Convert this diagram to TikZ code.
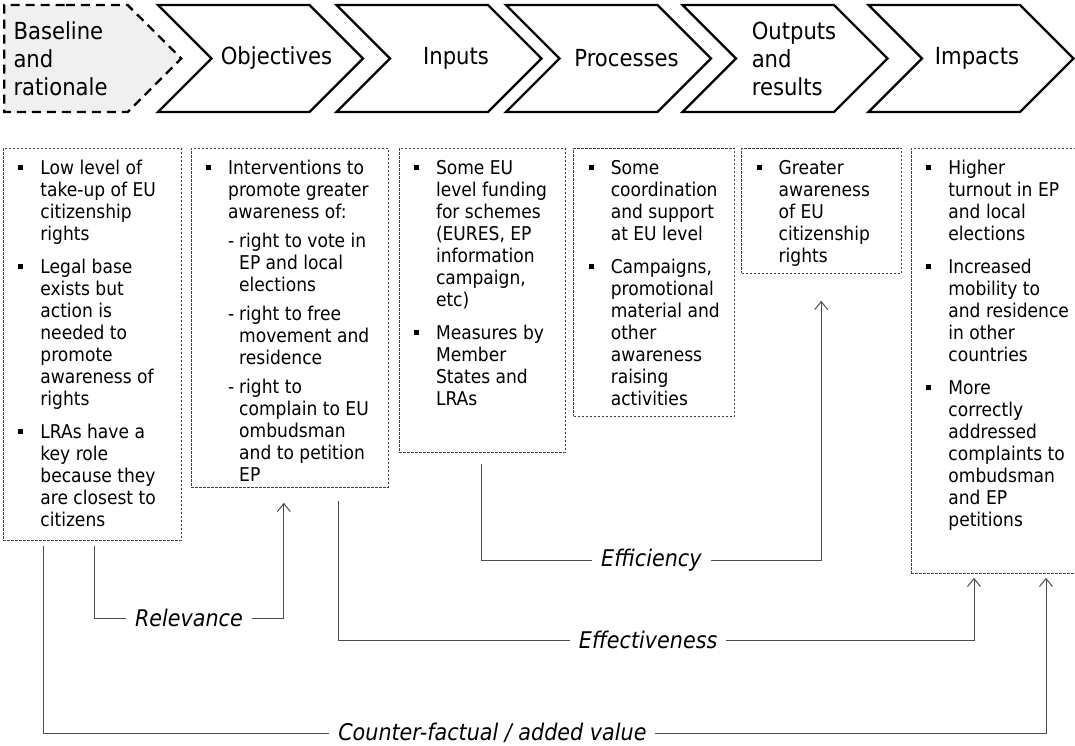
\documentclass[tikz,border=0pt]{standalone}
\usepackage{fontspec}
\setmainfont[FakeStretch=0.9]{DejaVu Sans}
\usetikzlibrary{positioning, arrows.meta, shapes.symbols}

% list items inside the boxes
\newcommand{\sqbullet}{\rule[4pt]{5pt}{5pt}}
\newcommand{\bitem}[2][11pt]{\par\vspace{#1}\hangindent=22pt\hangafter=1\noindent\strut\makebox[22pt][l]{\sqbullet}#2\par}
\newcommand{\ditem}[1]{\par\vspace{7pt}\hangindent=33pt\hangafter=1\noindent\strut\hspace*{22pt}\makebox[11pt][l]{-}#1\par}
\newcommand{\colbox}[3]{\parbox[t][#2][t]{#1}{\parindent=0pt\leftskip=15pt\rightskip=0pt plus 1fil\let\\\newline\vspace*{10.5pt}#3}}

\begin{document}
\begin{tikzpicture}[x=1pt, y=-1pt,
    chev/.style={signal, signal from=west, signal to=east, signal pointer angle=90, draw, line width=2.4pt, minimum width=205pt, minimum height=107pt, inner sep=0pt},
    basechev/.style={chev, signal from=nowhere, dash pattern=on 9pt off 6pt, fill=gray!12, minimum width=177pt},
    chevtext/.style={font=\fontsize{23.5}{28}\selectfont, align=left},
    itembox/.style={draw=black!75, line width=0.8pt, dash pattern=on 2.5pt off 1.5pt, inner sep=0pt, font=\fontsize{19}{22}\selectfont},
    flow/.style={draw=black!70, line width=1pt},
    arr/.style={flow, -{Straight Barb[length=8pt, width=13pt]}},
    lbl/.style={fill=white, inner xsep=9pt, inner ysep=1pt, font=\fontsize{23}{27}\selectfont\itshape}
]
    \useasboundingbox (0,0) rectangle (1075,745);

    % Stages
    \node[basechev, anchor=west, label={[chevtext, anchor=west, xshift=7pt]west:Baseline\\and\\rationale}] (base) at (3,58.5) {};
    \node[chev, label={[chevtext, xshift=16pt]center:Objectives}] (obj) at (260.5,58.5) {};
    \node[chev, label={[chevtext, xshift=17pt]center:Inputs}] (inp) at (439,58.5) {};
    \node[chev, label={[chevtext, xshift=18pt]center:Processes}] (proc) at (608.5,58.5) {};
    \node[chev, label={[chevtext, xshift=9pt]center:Outputs\\and\\results}] (outp) at (785,58.5) {};
    \node[chev, label={[chevtext, xshift=6pt]center:Impacts}] (imp) at (971,58.5) {};

    % Boxes
    \node[itembox, anchor=north west] (b1) at (3,148) {\colbox{178pt}{392pt}{%
        \bitem[0pt]{Low level of\\take-up of EU\\citizenship\\rights}
        \bitem{Legal base\\exists but\\action is\\needed to\\promote\\awareness of\\rights}
        \bitem{LRAs have a\\key role\\because they\\are closest to\\citizens}}};
    \node[itembox, right=9pt of b1.north east, anchor=north west] (b2) {\colbox{197pt}{339pt}{%
        \bitem[0pt]{Interventions to\\promote greater\\awareness of:}
        \ditem{right to vote in\\EP and local\\elections}
        \ditem{right to free\\movement and\\residence}
        \ditem{right to\\complain to EU\\ombudsman\\and to petition\\EP}}};
    \node[itembox, right=10pt of b2.north east, anchor=north west] (b3) {\colbox{166pt}{304pt}{%
        \bitem[0pt]{Some EU\\level funding\\for schemes\\(EURES, EP\\information\\campaign,\\etc)}
        \bitem{Measures by\\Member\\States and\\LRAs}}};
    \node[itembox, right=8pt of b3.north east, anchor=north west] (b4) {\colbox{161pt}{268pt}{%
        \bitem[0pt]{Some\\coordination\\and support\\at EU level}
        \bitem{Campaigns,\\promotional\\material and\\other\\awareness\\raising\\activities}}};
    \node[itembox, right=6pt of b4.north east, anchor=north west] (b5) {\colbox{160pt}{125pt}{%
        \bitem[0pt]{Greater\\awareness\\of EU\\citizenship\\rights}}};
    \node[itembox, right=9pt of b5.north east, anchor=north west] (b6) {\colbox{166pt}{425pt}{%
        \bitem[0pt]{Higher\\turnout in EP\\and local\\elections}
        \bitem{Increased\\mobility to\\and residence\\in other\\countries}
        \bitem{More\\correctly\\addressed\\complaints to\\ombudsman\\and EP\\petitions}}};

    % Evaluation criteria
    \coordinate (relA) at ([xshift=91pt, yshift=-5pt]b1.south west);
    \coordinate (relB) at ([xshift=93pt, yshift=-15pt]b2.south west);
    \draw[arr] (relA) -- (relA |- 0,618) -- node[lbl]{Relevance} (relB |- 0,618) -- (relB);

    \coordinate (effA) at ([xshift=83pt, yshift=-11pt]b3.south west);
    \coordinate (effB) at ([xshift=80pt, yshift=-27pt]b5.south west);
    \draw[arr] (effA) -- (effA |- 0,560) -- node[lbl]{Efficiency} (effB |- 0,560) -- (effB);

    \coordinate (effvA) at ([xshift=148pt, yshift=-13pt]b2.south west);
    \coordinate (effvB) at ([xshift=63pt, yshift=-4pt]b6.south west);
    \draw[arr] (effvA) -- (effvA |- 0,640) -- node[lbl, pos=0.487]{Effectiveness} (effvB |- 0,640) -- (effvB);

    \coordinate (cfA) at ([xshift=40pt, yshift=-5pt]b1.south west);
    \coordinate (cfB) at ([xshift=135pt, yshift=-4pt]b6.south west);
    \draw[arr] (cfA) -- (cfA |- 0,733) -- node[lbl, pos=0.448]{Counter-factual / added value} (cfB |- 0,733) -- (cfB);
\end{tikzpicture}
\end{document}
